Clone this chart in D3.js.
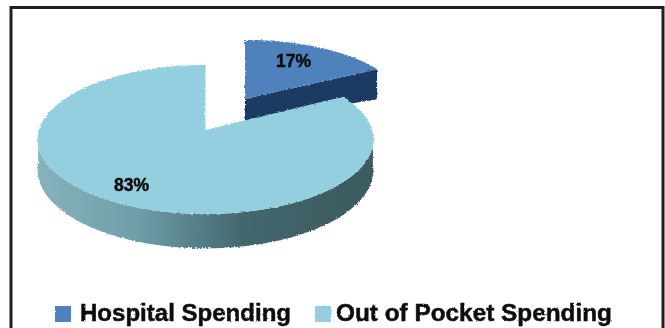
<!DOCTYPE html>
<html>
<head>
<meta charset="utf-8">
<script src="https://cdn.jsdelivr.net/npm/d3@7"></script>
<style>
html,body{margin:0;padding:0;background:#fff;overflow:hidden}
svg{display:block}
text{font-family:"Liberation Sans",sans-serif;font-weight:700;fill:#111;stroke:#111;stroke-width:.5px}
</style>
</head>
<body>
<svg id="chart" width="665" height="328"></svg>
<script>
const categories = ["Hospital Spending", "Out of Pocket Spending"];
const shares = [17, 83];
const topColors = ["#4f81bd", "#93cfde"];

const svg = d3.select("#chart");
const defs = svg.append("defs");

// Horizontal shading along the outer wall of the large slice
const wall = defs.append("linearGradient").attr("id", "wallShade")
  .attr("gradientUnits", "userSpaceOnUse")
  .attr("x1", 37).attr("x2", 372).attr("y1", 0).attr("y2", 0);
[[0, "#86b3be"], [0.3, "#6f9da8"], [0.62, "#42676d"], [1, "#3c5a5d"]]
  .forEach(([o, c]) => wall.append("stop").attr("offset", o).attr("stop-color", c));

// Rough, slightly soft edges on the pie and the legend
function roughFilter(id, scale, blur) {
  const f = defs.append("filter").attr("id", id)
    .attr("x", "-5%").attr("y", "-5%").attr("width", "110%").attr("height", "110%");
  f.append("feTurbulence").attr("type", "fractalNoise").attr("baseFrequency", 0.7)
    .attr("numOctaves", 1).attr("seed", 3).attr("result", "n");
  f.append("feDisplacementMap").attr("in", "SourceGraphic").attr("in2", "n")
    .attr("scale", scale).attr("xChannelSelector", "R").attr("yChannelSelector", "G").attr("result", "d");
  f.append("feGaussianBlur").attr("in", "d").attr("stdDeviation", blur);
}
roughFilter("roughPie", 3.2, 0.45);
roughFilter("roughLegend", 2.2, 0.45);
roughFilter("softLabel", 0.6, 0.35);

// Frame around the chart area; its lower edge runs past the bottom of the page
svg.append("rect").attr("x", 11).attr("y", 7.5).attr("width", 652).attr("height", 340)
  .attr("fill", "#fff").attr("stroke", "#231f1e").attr("stroke-width", 3);

const pie = d3.pie().sort(null).startAngle(0).endAngle(2 * Math.PI);
const slices = pie(shares);

// Perspective view of a tilted disc: the far side shrinks, the near side grows
function projector(cx, cy, rx, ry, p) {
  return a => {
    const u = Math.sin(a), v = Math.cos(a), w = 1 + p * v;
    return [cx + rx * u / w, cy - ry * v / w];
  };
}
function rimPoints(project, a0, a1) {
  return d3.range(0, 121).map(i => project(a0 + (a1 - a0) * i / 120));
}
const line = d3.line();
const pieGroup = svg.append("g").attr("filter", "url(#roughPie)");

// Pulled-out slice, drawn first because the large slice overlaps its wall
const blue = slices[0];
const blueAt = projector(245, 99, 158, 65, 0.1);
const blueApex = [245, 99];
const blueTip = blueAt(blue.endAngle);
pieGroup.append("path")
  .attr("d", line([blueApex, [245, 121], [blueTip[0], blueTip[1] + 30], blueTip]) + "Z")
  .attr("fill", "#1f3b63");
pieGroup.append("path")
  .attr("d", line([blueApex, ...rimPoints(blueAt, blue.startAngle, blue.endAngle)]) + "Z")
  .attr("fill", topColors[0]);

// Large slice: wall first, then the top face
const aqua = slices[1];
const aquaAt = projector(205.5, 130, 166.5, 73.3, 0.127);
const aquaApex = [205.5, 130];
const depth = 30;
const wallAngles = [Math.PI / 2 + 0.05, 2 * Math.PI - Math.PI / 2 - 0.05];
const rimTop = rimPoints(aquaAt, wallAngles[0], wallAngles[1]);
const rimBottom = rimTop.map(([x, y], i) => {
  const a = wallAngles[0] + (wallAngles[1] - wallAngles[0]) * i / 120;
  return [x, y + depth / (1 + 0.127 * Math.cos(a))];
}).reverse();
pieGroup.append("path").attr("d", line([...rimTop, ...rimBottom]) + "Z").attr("fill", "url(#wallShade)");
pieGroup.append("path")
  .attr("d", line([aquaApex, ...rimPoints(aquaAt, aqua.startAngle, aqua.endAngle)]) + "Z")
  .attr("fill", topColors[1]);

// Percentage labels on the top faces
const labelSpots = [[293.5, 67], [131.5, 191]];
svg.selectAll(".pct").data(shares).join("text").attr("class", "pct")
  .attr("x", (d, i) => labelSpots[i][0]).attr("y", (d, i) => labelSpots[i][1])
  .attr("text-anchor", "middle").attr("font-size", 17.5)
  .attr("filter", "url(#softLabel)")
  .text(d => d + "%");

// Legend along the bottom
const legendX = [55, 315];
const legendTextX = [80, 336];
const legendWidths = [211, 276];
const legend = svg.selectAll(".key").data(categories).join("g").attr("class", "key")
  .attr("filter", "url(#roughLegend)");
legend.append("rect")
  .attr("x", (d, i) => legendX[i]).attr("y", 306)
  .attr("width", 16).attr("height", 16)
  .attr("fill", (d, i) => topColors[i]);
legend.append("text")
  .attr("x", (d, i) => legendTextX[i]).attr("y", 321)
  .attr("font-size", 24)
  .attr("textLength", (d, i) => legendWidths[i])
  .attr("lengthAdjust", "spacingAndGlyphs")
  .text(d => d);
</script>
</body>
</html>
